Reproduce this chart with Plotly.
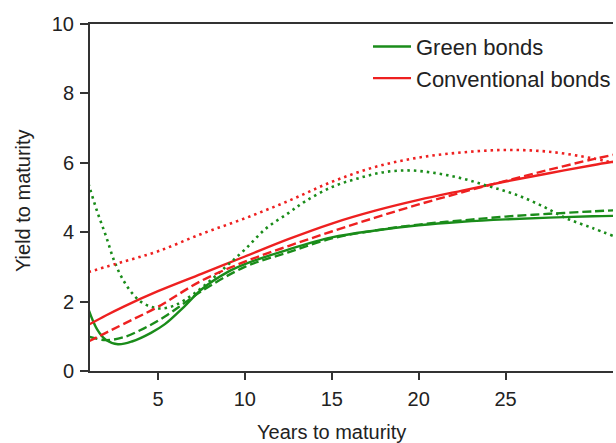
import plotly.graph_objects as go

# Years to maturity (x) and yield curves (y)
green_solid_x = [1.0, 1.5, 2.0, 2.7, 3.5, 4.6, 5.4, 6.5, 7.5, 9.0, 10.0, 12.5, 15.0, 17.5, 20.0, 22.5, 25.0, 27.5, 30.0, 31.2]
green_solid_y = [1.78, 1.2, 0.9, 0.77, 0.85, 1.1, 1.35, 1.85, 2.35, 2.85, 3.08, 3.5, 3.85, 4.05, 4.2, 4.3, 4.37, 4.42, 4.46, 4.47]

green_dash_x = [1.0, 2.0, 3.0, 4.2, 5.4, 6.5, 7.5, 10.0, 12.5, 15.0, 17.5, 20.0, 22.5, 25.0, 27.5, 30.0, 31.2]
green_dash_y = [0.99, 0.89, 0.97, 1.23, 1.57, 1.95, 2.3, 3.0, 3.42, 3.82, 4.05, 4.22, 4.34, 4.45, 4.53, 4.6, 4.63]

green_dot_x = [1.0, 1.5, 2.0, 2.5, 3.0, 3.5, 4.0, 4.6, 5.2, 6.0, 7.0, 8.0, 9.0, 10.0, 11.2, 12.5, 13.5, 15.0, 16.5, 18.0, 19.5, 21.0, 22.5, 24.0, 25.5, 27.0, 28.5, 30.0, 31.2]
green_dot_y = [5.4, 4.6, 3.9, 3.15, 2.62, 2.25, 2.0, 1.85, 1.8, 1.9, 2.2, 2.6, 3.05, 3.5, 4.1, 4.55, 4.9, 5.3, 5.55, 5.73, 5.78, 5.7, 5.55, 5.33, 5.1, 4.78, 4.4, 4.12, 3.89]

red_solid_x = [1.0, 2.0, 3.0, 5.0, 7.5, 10.0, 12.5, 15.0, 17.5, 20.0, 22.5, 25.0, 27.5, 30.0, 31.2]
red_solid_y = [1.33, 1.6, 1.85, 2.3, 2.8, 3.3, 3.8, 4.25, 4.62, 4.93, 5.2, 5.46, 5.7, 5.93, 6.03]

red_dash_x = [1.0, 2.0, 3.0, 5.0, 7.5, 10.0, 12.5, 15.0, 17.5, 20.0, 22.5, 25.0, 27.5, 30.0, 31.2]
red_dash_y = [0.85, 1.1, 1.35, 1.85, 2.6, 3.15, 3.6, 4.02, 4.42, 4.8, 5.15, 5.48, 5.8, 6.1, 6.23]

red_dot_x = [1.0, 3.0, 5.0, 7.5, 10.0, 12.5, 15.0, 17.5, 20.0, 22.5, 25.0, 27.5, 30.0, 31.2]
red_dot_y = [2.85, 3.15, 3.45, 3.95, 4.4, 4.9, 5.45, 5.88, 6.15, 6.3, 6.37, 6.32, 6.13, 6.0]

x_ticks = [5, 10, 15, 20, 25]
y_ticks = [0, 2, 4, 6, 8, 10]

GREEN = "#1a8c1a"
RED = "#ee2020"
FONT = "Liberation Sans, Arial, Helvetica, sans-serif"
DASH = "9px,4px"
DOT = "2.5px,4px"

fig = go.Figure()
fig.add_trace(go.Scatter(x=green_solid_x, y=green_solid_y, mode="lines", name="Green bonds",
                         line=dict(color=GREEN, width=2.4, shape="spline")))
fig.add_trace(go.Scatter(x=red_solid_x, y=red_solid_y, mode="lines", name="Conventional bonds",
                         line=dict(color=RED, width=2.4, shape="spline")))
fig.add_trace(go.Scatter(x=green_dash_x, y=green_dash_y, mode="lines", showlegend=False,
                         line=dict(color=GREEN, width=2.4, dash=DASH, shape="spline")))
fig.add_trace(go.Scatter(x=green_dot_x, y=green_dot_y, mode="lines", showlegend=False,
                         line=dict(color=GREEN, width=2.6, dash=DOT, shape="spline")))
fig.add_trace(go.Scatter(x=red_dash_x, y=red_dash_y, mode="lines", showlegend=False,
                         line=dict(color=RED, width=2.4, dash=DASH, shape="spline")))
fig.add_trace(go.Scatter(x=red_dot_x, y=red_dot_y, mode="lines", showlegend=False,
                         line=dict(color=RED, width=2.6, dash=DOT, shape="spline")))

fig.update_layout(
    width=616, height=443,
    margin=dict(l=90, r=0, t=24, b=72),
    paper_bgcolor="white", plot_bgcolor="white",
    font=dict(family=FONT, size=20, color="#222222"),
    showlegend=True,
    legend=dict(x=0.532, y=0.995, xanchor="left", yanchor="top",
                bgcolor="rgba(0,0,0,0)", font=dict(size=22, color="#222222"),
                tracegroupgap=0, itemwidth=38),
    xaxis=dict(range=[1.09, 31.18], tickvals=x_ticks, ticks="outside", ticklen=7,
               tickwidth=1.5, tickcolor="#333333", showline=True, linecolor="#333333",
               linewidth=2, mirror=True, showgrid=False, zeroline=False,
               ticklabelstandoff=2),
    yaxis=dict(range=[0, 10], tickvals=y_ticks, ticks="outside", ticklen=8,
               tickwidth=1.5, tickcolor="#333333", showline=True, linecolor="#333333",
               linewidth=2, showgrid=False, zeroline=False, ticklabelstandoff=2),
    annotations=[
        dict(text="Years to maturity", x=15, xref="x", y=-0.175, yref="paper",
             showarrow=False, xanchor="center", yanchor="middle",
             font=dict(size=20, family=FONT, color="#222222")),
        dict(text="Yield to maturity", x=-0.128, xref="paper", y=0.49, yref="paper",
             showarrow=False, textangle=-90, xanchor="center", yanchor="middle",
             font=dict(size=20, family=FONT, color="#222222")),
    ],
)

fig.write_html(
    "out.html",
    config={"displayModeBar": False},
    post_script="document.body.style.margin='0';document.body.style.overflow='hidden';",
)
